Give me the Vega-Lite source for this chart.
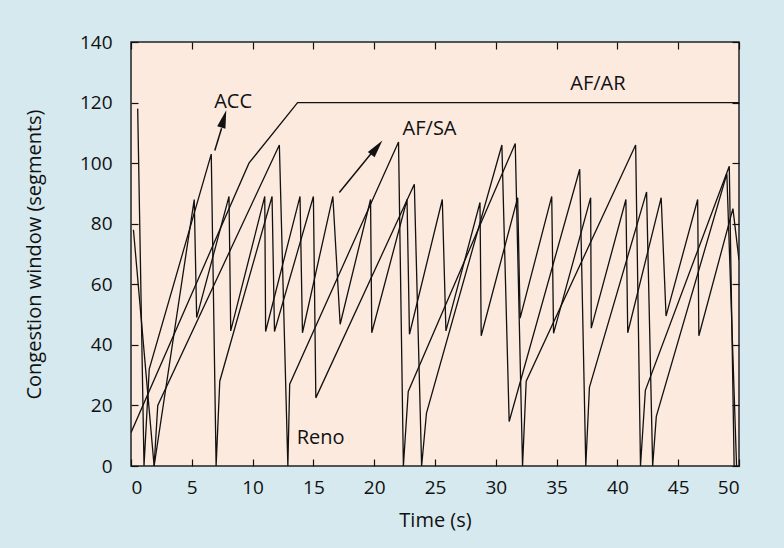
{
  "$schema": "https://vega.github.io/schema/vega-lite/v6.json",
  "width": 608,
  "height": 424,
  "autosize": {"type": "none"},
  "padding": {"left": 131, "top": 42, "right": 45, "bottom": 82},
  "background": "#d6e9ee",
  "config": {
    "view": {"fill": "#fdeadf", "stroke": "#222222", "strokeWidth": 1.5},
    "font": "Open Sans",
    "axis": {
      "domain": false, "grid": false,
      "tickColor": "#111111", "tickSize": -7, "tickWidth": 1.2,
      "labelFontSize": 19, "labelColor": "#111111",
      "titleFontSize": 20, "titleFontWeight": "normal", "titleColor": "#111111"
    }
  },
  "datasets": {
    "flows": [
      {"flow": "AR", "i": 0, "t": 0, "w": 11}, {"flow": "AR", "i": 1, "t": 9.7, "w": 100}, {"flow": "AR", "i": 2, "t": 13.7, "w": 120}, {"flow": "AR", "i": 3, "t": 50, "w": 120},
      {"flow": "S", "i": 0, "t": 0.2, "w": 78}, {"flow": "S", "i": 1, "t": 1.9, "w": 0}, {"flow": "S", "i": 2, "t": 2.2, "w": 20}, {"flow": "S", "i": 3, "t": 12.2, "w": 106},
      {"flow": "S", "i": 4, "t": 12.9, "w": 0}, {"flow": "S", "i": 5, "t": 13.05, "w": 27}, {"flow": "S", "i": 6, "t": 22.0, "w": 107}, {"flow": "S", "i": 7, "t": 22.4, "w": 0},
      {"flow": "S", "i": 8, "t": 22.8, "w": 24.6}, {"flow": "S", "i": 9, "t": 31.6, "w": 106.5}, {"flow": "S", "i": 10, "t": 32.2, "w": 0}, {"flow": "S", "i": 11, "t": 32.5, "w": 28},
      {"flow": "S", "i": 12, "t": 41.5, "w": 106}, {"flow": "S", "i": 13, "t": 41.9, "w": 0}, {"flow": "S", "i": 14, "t": 42.3, "w": 25}, {"flow": "S", "i": 15, "t": 49.2, "w": 99},
      {"flow": "S", "i": 16, "t": 49.6, "w": 0},
      {"flow": "B", "i": 0, "t": 0.55, "w": 118}, {"flow": "B", "i": 1, "t": 1.07, "w": 0}, {"flow": "B", "i": 2, "t": 1.5, "w": 32}, {"flow": "B", "i": 3, "t": 6.6, "w": 103},
      {"flow": "B", "i": 4, "t": 7.0, "w": 0}, {"flow": "B", "i": 5, "t": 7.3, "w": 28}, {"flow": "B", "i": 6, "t": 11.6, "w": 89}, {"flow": "B", "i": 7, "t": 11.8, "w": 44.4},
      {"flow": "B", "i": 8, "t": 15.0, "w": 89}, {"flow": "B", "i": 9, "t": 15.2, "w": 22.5}, {"flow": "B", "i": 10, "t": 23.3, "w": 93}, {"flow": "B", "i": 11, "t": 23.9, "w": 0},
      {"flow": "B", "i": 12, "t": 24.3, "w": 17.5}, {"flow": "B", "i": 13, "t": 30.5, "w": 106}, {"flow": "B", "i": 14, "t": 31.1, "w": 14.7}, {"flow": "B", "i": 15, "t": 36.9, "w": 98},
      {"flow": "B", "i": 16, "t": 37.4, "w": 0}, {"flow": "B", "i": 17, "t": 37.7, "w": 26}, {"flow": "B", "i": 18, "t": 42.4, "w": 90.5}, {"flow": "B", "i": 19, "t": 42.9, "w": 0},
      {"flow": "B", "i": 20, "t": 43.2, "w": 16.4}, {"flow": "B", "i": 21, "t": 49.0, "w": 96.5}, {"flow": "B", "i": 22, "t": 49.8, "w": 0},
      {"flow": "F", "i": 0, "t": 1.9, "w": 0}, {"flow": "F", "i": 1, "t": 5.2, "w": 88}, {"flow": "F", "i": 2, "t": 5.4, "w": 49}, {"flow": "F", "i": 3, "t": 8.06, "w": 89},
      {"flow": "F", "i": 4, "t": 8.2, "w": 44.6}, {"flow": "F", "i": 5, "t": 11.0, "w": 89}, {"flow": "F", "i": 6, "t": 11.07, "w": 44.4}, {"flow": "F", "i": 7, "t": 13.9, "w": 89},
      {"flow": "F", "i": 8, "t": 14.1, "w": 44}, {"flow": "F", "i": 9, "t": 16.6, "w": 89}, {"flow": "F", "i": 10, "t": 17.2, "w": 46.8}, {"flow": "F", "i": 11, "t": 19.7, "w": 88},
      {"flow": "F", "i": 12, "t": 19.8, "w": 44}, {"flow": "F", "i": 13, "t": 22.7, "w": 88}, {"flow": "F", "i": 14, "t": 22.9, "w": 43.5}, {"flow": "F", "i": 15, "t": 25.6, "w": 88},
      {"flow": "F", "i": 16, "t": 25.9, "w": 44.6}, {"flow": "F", "i": 17, "t": 28.7, "w": 87}, {"flow": "F", "i": 18, "t": 28.8, "w": 43}, {"flow": "F", "i": 19, "t": 31.8, "w": 88.6},
      {"flow": "F", "i": 20, "t": 32.0, "w": 48.8}, {"flow": "F", "i": 21, "t": 34.6, "w": 89}, {"flow": "F", "i": 22, "t": 34.75, "w": 43.8}, {"flow": "F", "i": 23, "t": 37.8, "w": 88.6},
      {"flow": "F", "i": 24, "t": 37.85, "w": 45.5}, {"flow": "F", "i": 25, "t": 40.7, "w": 88}, {"flow": "F", "i": 26, "t": 40.85, "w": 44}, {"flow": "F", "i": 27, "t": 43.6, "w": 88.6},
      {"flow": "F", "i": 28, "t": 44.0, "w": 49.5}, {"flow": "F", "i": 29, "t": 46.6, "w": 88}, {"flow": "F", "i": 30, "t": 46.7, "w": 43}, {"flow": "F", "i": 31, "t": 49.5, "w": 85},
      {"flow": "F", "i": 32, "t": 50, "w": 68}
    ],
    "labels": [
      {"label": "ACC", "t": 8.4, "w": 120.3},
      {"label": "AF/SA", "t": 24.55, "w": 111.2},
      {"label": "AF/AR", "t": 38.4, "w": 126.2},
      {"label": "Reno", "t": 15.6, "w": 9.4}
    ],
    "arrows": [
      {"t1": 6.89, "w1": 104.2, "t2": 7.45, "w2": 111.5, "th": 7.6, "wh": 114.2, "ang": 16},
      {"t1": 17.13, "w1": 90.3, "t2": 19.8, "w2": 103.4, "th": 20.15, "wh": 104.8, "ang": 38.6}
    ]
  },
  "layer": [
    {
      "data": {"name": "flows"},
      "mark": {"type": "line", "color": "#111111", "strokeWidth": 1.3, "clip": true},
      "encoding": {
        "x": {"field": "t", "type": "quantitative", "scale": {"domain": [0, 50], "nice": false},
              "axis": {"orient": "bottom", "values": [0, 5, 10, 15, 20, 25, 30, 35, 40, 45, 50], "title": "Time (s)", "labelPadding": 19, "titlePadding": 13}},
        "y": {"field": "w", "type": "quantitative", "scale": {"domain": [0, 140], "nice": false},
              "axis": {"orient": "left", "values": [0, 20, 40, 60, 80, 100, 120, 140], "title": "Congestion window (segments)", "labelPadding": 26, "titlePadding": 35}},
        "detail": {"field": "flow"},
        "order": {"field": "i", "type": "quantitative"}
      }
    },
    {
      "data": {"values": [{"t": 0, "w": 0}]},
      "mark": {"type": "point", "opacity": 0},
      "encoding": {
        "x": {"field": "t", "type": "quantitative", "axis": {"orient": "top", "values": [0, 5, 10, 15, 20, 25, 30, 35, 40, 45, 50], "labels": false, "title": null}},
        "y": {"field": "w", "type": "quantitative", "axis": {"orient": "right", "values": [0, 20, 40, 60, 80, 100, 120, 140], "labels": false, "title": null}}
      }
    },
    {
      "data": {"name": "labels"},
      "mark": {"type": "text", "fontSize": 20, "color": "#111111", "align": "center", "baseline": "middle"},
      "encoding": {
        "x": {"field": "t", "type": "quantitative", "axis": null},
        "y": {"field": "w", "type": "quantitative", "axis": null},
        "text": {"field": "label"}
      }
    },
    {
      "data": {"name": "arrows"},
      "mark": {"type": "rule", "color": "#111111", "strokeWidth": 1.5},
      "encoding": {
        "x": {"field": "t1", "type": "quantitative", "axis": null},
        "y": {"field": "w1", "type": "quantitative", "axis": null},
        "x2": {"field": "t2"},
        "y2": {"field": "w2"}
      }
    },
    {
      "data": {"name": "arrows"},
      "mark": {"type": "point", "shape": "M0,-1L0.42,0.75L-0.42,0.75Z", "filled": true, "color": "#111111", "opacity": 1, "size": 420},
      "encoding": {
        "x": {"field": "th", "type": "quantitative", "axis": null},
        "y": {"field": "wh", "type": "quantitative", "axis": null},
        "angle": {"field": "ang", "type": "quantitative", "scale": null}
      }
    }
  ]
}
